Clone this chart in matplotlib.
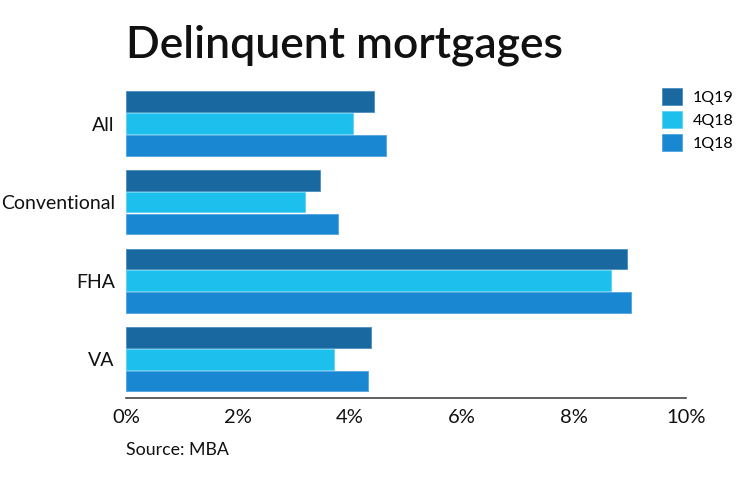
import matplotlib
matplotlib.use("Agg")
import matplotlib.pyplot as plt
import numpy as np

categories = ["All", "Conventional", "FHA", "VA"]
series_names = ["1Q19", "4Q18", "1Q18"]
values_1q19 = [4.42, 3.47, 8.95, 4.38]
values_4q18 = [4.06, 3.19, 8.66, 3.71]
values_1q18 = [4.64, 3.78, 9.02, 4.32]
x_ticks = [0, 2, 4, 6, 8, 10]
x_tick_labels = ["0%", "2%", "4%", "6%", "8%", "10%"]

colors = ["#1a68a0", "#1dbfec", "#1a87d2"]
edge_colors = ["#4a8fc0", "#5fd3f3", "#4fa5e0"]

plt.rcParams['font.family'] = ['Lato', 'DejaVu Sans']

fig = plt.figure(figsize=(7.4, 4.82), dpi=100)
ax = fig.add_axes([126/740, 1-398/482, (686-126)/740, (398-75)/482])

y = np.arange(len(categories))
pitch = 0.2774
height = 0.262
all_series = [values_1q19, values_4q18, values_1q18]
for i, (vals, name) in enumerate(zip(all_series, series_names)):
    ax.barh(y + (i-1)*pitch, vals, height=height, color=colors[i],
            edgecolor=edge_colors[i], linewidth=0.6, label=name)

ax.set_xlim(0, 10)
ax.set_ylim(3.492, -0.617)
ax.set_xticks(x_ticks)
ax.set_xticklabels(x_tick_labels, fontsize=14.5, color="#111111")
ax.set_yticks(y)
ax.set_yticklabels(categories, fontsize=14, color="#111111")
ax.tick_params(axis='both', length=0)
ax.tick_params(axis='x', pad=8)
ax.tick_params(axis='y', pad=8)
for s in ["top", "right", "left"]:
    ax.spines[s].set_visible(False)
ax.spines["bottom"].set_color("#444444")
ax.spines["bottom"].set_linewidth(1.2)

fig.text(126/740, 1-45/482, "Delinquent mortgages", fontsize=32, fontweight="semibold",
         ha="left", va="center", color="#111111")
fig.text(126/740, 1-450/482, "Source: MBA", fontsize=12.8, ha="left", va="center", color="#111111")

leg = ax.legend(loc="upper left", bbox_to_anchor=((656-126)/560, (398-82)/323), frameon=False,
                fontsize=11.5, handlelength=1.2, handleheight=1.2, labelspacing=0.4,
                handletextpad=0.7, borderaxespad=0)

fig.savefig("out.png", dpi=100)
